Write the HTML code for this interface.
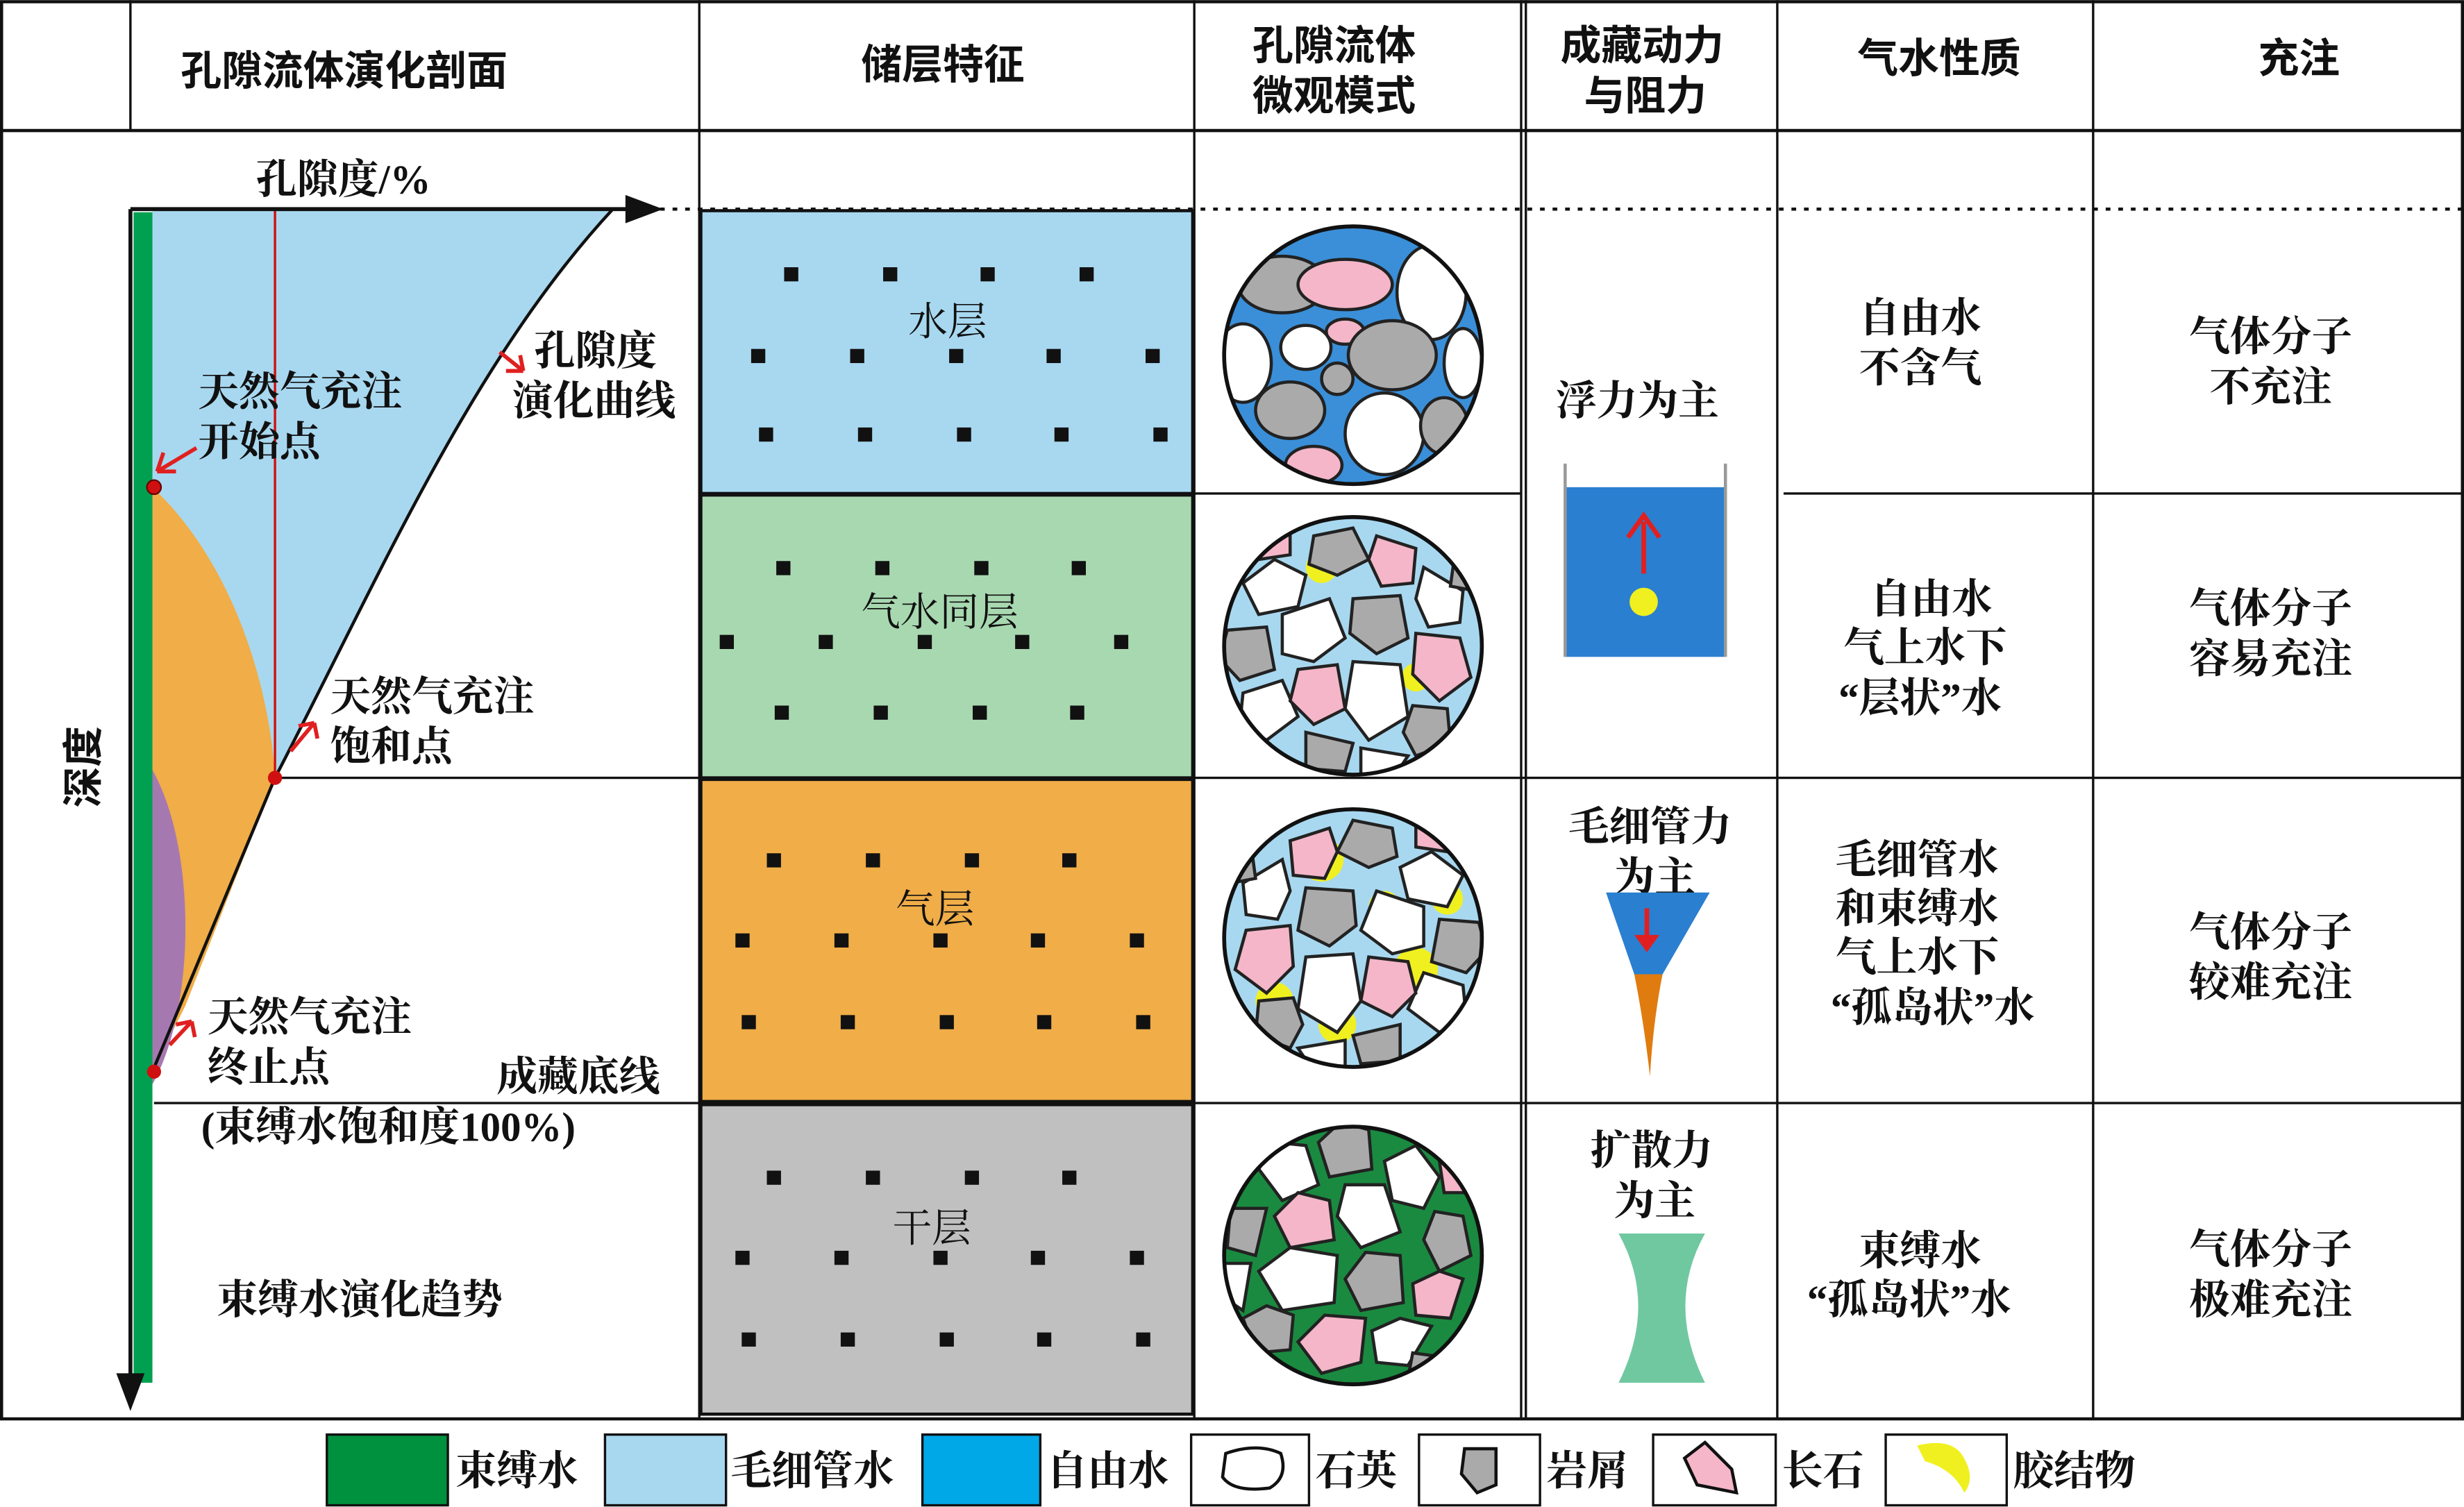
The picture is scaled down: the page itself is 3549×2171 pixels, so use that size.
<!DOCTYPE html>
<html><head><meta charset="utf-8"><style>
html,body{margin:0;padding:0;background:#fff}
svg{display:block}
text{font-family:"Liberation Serif","Noto Serif CJK SC",serif;font-weight:700;fill:#111}
.h{font-family:"Liberation Sans","Noto Sans CJK SC",sans-serif;font-weight:700;font-size:26px}
.b{font-size:26px}
.l{font-size:25px;font-weight:400}
</style></head><body>
<svg width="3549" height="2171" viewBox="0 0 1568 959" xmlns="http://www.w3.org/2000/svg">
<defs>
<clipPath id="c"><circle cx="0" cy="0" r="82"/></clipPath>
<g id="rocks" stroke="#222" stroke-width="2">
<polygon points="-70,-40 -50,-55 -30,-45 -35,-25 -60,-20" fill="#fff"/>
<polygon points="-25,-70 0,-75 10,-55 -10,-45 -28,-52" fill="#aaa"/>
<polygon points="15,-70 40,-62 38,-40 18,-38 10,-55" fill="#f4b6c8"/>
<polygon points="45,-50 70,-35 68,-15 48,-12 40,-30" fill="#fff"/>
<polygon points="-80,-10 -55,-12 -50,15 -72,22 -85,8" fill="#aaa"/>
<polygon points="-45,-20 -15,-30 -5,-5 -25,10 -45,5" fill="#fff"/>
<polygon points="0,-30 30,-32 35,-5 15,5 -2,-8" fill="#aaa"/>
<polygon points="40,-8 68,-5 75,20 55,35 38,18" fill="#f4b6c8"/>
<polygon points="-70,30 -45,22 -35,45 -55,60 -72,50" fill="#fff"/>
<polygon points="-35,15 -10,12 -5,40 -25,50 -40,35" fill="#f4b6c8"/>
<polygon points="0,10 30,12 35,45 10,60 -5,40" fill="#fff"/>
<polygon points="38,38 60,40 62,62 40,70 32,55" fill="#aaa"/>
<polygon points="-30,55 0,62 -5,80 -30,78" fill="#aaa"/>
<polygon points="5,65 35,70 25,85 5,85" fill="#fff"/>
<polygon points="-60,-70 -40,-72 -40,-58 -60,-55" fill="#f4b6c8"/>
<polygon points="65,-60 80,-50 78,-35 62,-38" fill="#aaa"/>
</g>
</defs>
<rect x="1" y="1" width="1566" height="902" fill="none" stroke="#111" stroke-width="2"/>
<line x1="0" y1="83" x2="1568" y2="83" stroke="#111" stroke-width="2"/>
<line x1="83" y1="0" x2="83" y2="83" stroke="#111" stroke-width="1.5"/>
<g stroke="#111" stroke-width="1.5">
<line x1="445" y1="0" x2="445" y2="903"/><line x1="760" y1="0" x2="760" y2="903"/>
<line x1="968" y1="0" x2="968" y2="903"/><line x1="971" y1="0" x2="971" y2="903"/>
<line x1="1131" y1="0" x2="1131" y2="903"/><line x1="1332" y1="0" x2="1332" y2="903"/>
<line x1="1135" y1="314" x2="1568" y2="314"/><line x1="760" y1="314" x2="968" y2="314"/>
<line x1="170" y1="495" x2="1568" y2="495"/>
<line x1="98" y1="702" x2="1568" y2="702"/>
</g>
<line x1="420" y1="133" x2="1568" y2="133" stroke="#111" stroke-width="2" stroke-dasharray="3,5"/>
<text class="h" x="115" y="54">孔隙流体演化剖面</text>
<text class="h" x="548" y="50">储层特征</text>
<text class="h" x="797" y="38">孔隙流体</text><text class="h" x="797" y="70">微观模式</text>
<text class="h" x="993" y="38">成藏动力</text><text class="h" x="1008" y="70">与阻力</text>
<text class="h" x="1182" y="46">气水性质</text>
<text class="h" x="1437" y="46">充注</text>
<path d="M97,133 L390,133 C300,230 240,370 175,495 L97,682 Z" fill="#a8d8f0"/>
<path d="M97,310 C150,360 172,440 175,495 L118,640 L97,682 Z" fill="#f0ad48"/>
<path d="M97,490 C125,540 125,640 97,690 Z" fill="#a678b0"/>
<rect x="85" y="135" width="12" height="745" fill="#00a050"/>
<path d="M390,133 C300,230 240,370 175,495 L97,682" fill="none" stroke="#111" stroke-width="2"/>
<line x1="175" y1="133" x2="175" y2="495" stroke="#d01010" stroke-width="1.5"/>
<line x1="83" y1="133" x2="405" y2="133" stroke="#111" stroke-width="2.5"/>
<polygon points="422,133 398,124 398,142" fill="#111"/>
<line x1="83" y1="133" x2="83" y2="880" stroke="#111" stroke-width="2.5"/>
<polygon points="83,898 74,874 92,874" fill="#111"/>
<circle cx="98" cy="310" r="4.5" fill="#d01010" stroke="#600" /><circle cx="175" cy="495" r="4.5" fill="#d01010"/><circle cx="98" cy="682" r="4.5" fill="#d01010"/>
<g stroke="#e02020" stroke-width="2.5" fill="none">
<path d="M125,285 L100,300 M100,300 L104,288 M100,300 L112,300"/>
<path d="M185,478 L200,460 M200,460 L190,462 M200,460 L202,470"/>
<path d="M108,665 L122,650 M122,650 L112,652 M122,650 L124,660"/>
<path d="M318,224 L333,236 M333,236 L322,236 M333,236 L331,226"/>
</g>
<text class="b" x="163" y="123">孔隙度/%</text>
<text class="b" x="340" y="232">孔隙度</text><text class="b" x="326" y="264">演化曲线</text>
<text class="b" x="126" y="258">天然气充注</text><text class="b" x="126" y="290">开始点</text>
<text class="b" x="210" y="452">天然气充注</text><text class="b" x="210" y="484">饱和点</text>
<text class="b" x="132" y="656">天然气充注</text><text class="b" x="132" y="688">终止点</text>
<text class="b" x="316" y="694">成藏底线</text>
<text class="b" x="128" y="726">(束缚水饱和度100%)</text>
<text class="b" x="138" y="836">束缚水演化趋势</text>
<text class="h" transform="translate(62,488) rotate(-90)" text-anchor="middle">深度</text>
<rect x="446" y="134" width="313" height="180" fill="#a8d8f0" stroke="#111" stroke-width="2"/>
<rect x="446" y="315" width="313" height="180" fill="#a8d8b0" stroke="#111" stroke-width="2"/>
<rect x="446" y="496" width="313" height="205" fill="#f0ad48" stroke="#111" stroke-width="2"/>
<rect x="446" y="703" width="313" height="197" fill="#c0c0c0" stroke="#111" stroke-width="2"/>
<g fill="#111">
<rect x="499" y="170" width="9" height="9"/><rect x="562" y="170" width="9" height="9"/><rect x="624" y="170" width="9" height="9"/><rect x="687" y="170" width="9" height="9"/>
<rect x="478" y="222" width="9" height="9"/><rect x="541" y="222" width="9" height="9"/><rect x="604" y="222" width="9" height="9"/><rect x="666" y="222" width="9" height="9"/><rect x="729" y="222" width="9" height="9"/>
<rect x="483" y="272" width="9" height="9"/><rect x="546" y="272" width="9" height="9"/><rect x="609" y="272" width="9" height="9"/><rect x="671" y="272" width="9" height="9"/><rect x="734" y="272" width="9" height="9"/>
<rect x="494" y="357" width="9" height="9"/><rect x="557" y="357" width="9" height="9"/><rect x="620" y="357" width="9" height="9"/><rect x="682" y="357" width="9" height="9"/>
<rect x="458" y="404" width="9" height="9"/><rect x="521" y="404" width="9" height="9"/><rect x="584" y="404" width="9" height="9"/><rect x="646" y="404" width="9" height="9"/><rect x="709" y="404" width="9" height="9"/>
<rect x="493" y="449" width="9" height="9"/><rect x="556" y="449" width="9" height="9"/><rect x="619" y="449" width="9" height="9"/><rect x="681" y="449" width="9" height="9"/>
<rect x="488" y="543" width="9" height="9"/><rect x="551" y="543" width="9" height="9"/><rect x="614" y="543" width="9" height="9"/><rect x="676" y="543" width="9" height="9"/>
<rect x="468" y="594" width="9" height="9"/><rect x="531" y="594" width="9" height="9"/><rect x="594" y="594" width="9" height="9"/><rect x="656" y="594" width="9" height="9"/><rect x="719" y="594" width="9" height="9"/>
<rect x="472" y="646" width="9" height="9"/><rect x="535" y="646" width="9" height="9"/><rect x="598" y="646" width="9" height="9"/><rect x="660" y="646" width="9" height="9"/><rect x="723" y="646" width="9" height="9"/>
<rect x="488" y="745" width="9" height="9"/><rect x="551" y="745" width="9" height="9"/><rect x="614" y="745" width="9" height="9"/><rect x="676" y="745" width="9" height="9"/>
<rect x="468" y="796" width="9" height="9"/><rect x="531" y="796" width="9" height="9"/><rect x="594" y="796" width="9" height="9"/><rect x="656" y="796" width="9" height="9"/><rect x="719" y="796" width="9" height="9"/>
<rect x="472" y="848" width="9" height="9"/><rect x="535" y="848" width="9" height="9"/><rect x="598" y="848" width="9" height="9"/><rect x="660" y="848" width="9" height="9"/><rect x="723" y="848" width="9" height="9"/>
</g>
<text class="l" x="578" y="213">水层</text>
<text class="l" x="548" y="398">气水同层</text>
<text class="l" x="570" y="587">气层</text>
<text class="l" x="568" y="790">干层</text>
<g transform="translate(861,226)"><g clip-path="url(#c)"><circle r="82" fill="#3a8fd8"/>
<g stroke="#222" stroke-width="2">
<ellipse cx="-45" cy="-45" rx="28" ry="18" fill="#aaa"/><ellipse cx="-5" cy="-45" rx="30" ry="16" fill="#f4b6c8"/>
<ellipse cx="50" cy="-40" rx="22" ry="30" fill="#fff"/><ellipse cx="-70" cy="5" rx="18" ry="25" fill="#fff"/>
<ellipse cx="-30" cy="-5" rx="16" ry="14" fill="#fff"/><ellipse cx="-5" cy="-15" rx="12" ry="8" fill="#f4b6c8"/>
<ellipse cx="25" cy="0" rx="28" ry="22" fill="#aaa"/><ellipse cx="70" cy="5" rx="12" ry="22" fill="#fff"/>
<ellipse cx="-40" cy="35" rx="22" ry="18" fill="#aaa"/><ellipse cx="-10" cy="15" rx="10" ry="10" fill="#aaa"/>
<ellipse cx="20" cy="50" rx="25" ry="26" fill="#fff"/><ellipse cx="58" cy="45" rx="15" ry="18" fill="#aaa"/>
<ellipse cx="-25" cy="70" rx="18" ry="12" fill="#f4b6c8"/>
</g></g><circle r="82" fill="none" stroke="#111" stroke-width="2.5"/></g>
<g transform="translate(861,411)"><g clip-path="url(#c)"><circle r="82" fill="#a8d8f0"/>
<circle cx="-20" cy="-50" r="10" fill="#f0f020"/><circle cx="40" cy="20" r="9" fill="#f0f020"/><circle cx="-50" cy="40" r="8" fill="#f0f020"/>
<use href="#rocks"/></g><circle r="82" fill="none" stroke="#111" stroke-width="2.5"/></g>
<g transform="translate(861,597)"><g clip-path="url(#c)"><circle r="82" fill="#a8d8f0"/>
<circle cx="-20" cy="-50" r="14" fill="#f0f020"/><circle cx="40" cy="20" r="14" fill="#f0f020"/><circle cx="-50" cy="40" r="12" fill="#f0f020"/><circle cx="20" cy="-20" r="10" fill="#f0f020"/><circle cx="-10" cy="55" r="12" fill="#f0f020"/><circle cx="60" cy="-25" r="10" fill="#f0f020"/>
<use href="#rocks" transform="scale(-1,1)"/></g><circle r="82" fill="none" stroke="#111" stroke-width="2.5"/></g>
<g transform="translate(861,799)"><g clip-path="url(#c)"><circle r="82" fill="#1a8a40"/>
<use href="#rocks" transform="rotate(90)"/></g><circle r="82" fill="none" stroke="#111" stroke-width="2.5"/></g>
<text class="b" x="990" y="264">浮力为主</text>
<rect x="996" y="310" width="102" height="108" fill="#2a7fd0"/>
<line x1="996" y1="295" x2="996" y2="418" stroke="#999" stroke-width="2"/><line x1="1098" y1="295" x2="1098" y2="418" stroke="#999" stroke-width="2"/>
<line x1="1046" y1="365" x2="1046" y2="332" stroke="#e02020" stroke-width="3"/><path d="M1036,342 L1046,328 L1056,342" fill="none" stroke="#e02020" stroke-width="3"/>
<circle cx="1046" cy="383" r="9" fill="#f0f020"/>
<text class="b" x="998" y="535">毛细管力</text><text class="b" x="1027" y="567">为主</text>
<path d="M1022,568 L1088,568 L1058,620 L1040,620 Z" fill="#2a7fd0"/>
<path d="M1040,620 L1058,620 Q1052,650 1050,685 Q1046,650 1040,620 Z" fill="#e07b10"/>
<line x1="1048" y1="578" x2="1048" y2="600" stroke="#e02020" stroke-width="3"/><path d="M1040,595 L1048,606 L1056,595" fill="#e02020"/>
<text class="b" x="1012" y="741">扩散力</text><text class="b" x="1027" y="773">为主</text>
<path d="M1030,785 L1085,785 Q1060,830 1085,880 L1030,880 Q1055,830 1030,785 Z" fill="#70c8a0"/>
<text class="b" x="1183" y="211">自由水</text><text class="b" x="1183" y="243">不含气</text>
<text class="b" x="1190" y="390">自由水</text><text class="b" x="1173" y="421">气上水下</text><text class="b" x="1170" y="453">“层状”水</text>
<text class="b" x="1168" y="556">毛细管水</text><text class="b" x="1168" y="587">和束缚水</text><text class="b" x="1168" y="618">气上水下</text><text class="b" x="1165" y="650">“孤岛状”水</text>
<text class="b" x="1183" y="805">束缚水</text><text class="b" x="1150" y="836">“孤岛状”水</text>
<text class="b" x="1393" y="223">气体分子</text><text class="b" x="1406" y="255">不充注</text>
<text class="b" x="1393" y="396">气体分子</text><text class="b" x="1393" y="428">容易充注</text>
<text class="b" x="1393" y="602">气体分子</text><text class="b" x="1393" y="634">较难充注</text>
<text class="b" x="1393" y="804">气体分子</text><text class="b" x="1393" y="836">极难充注</text>
<g stroke="#111" stroke-width="1.5">
<rect x="208" y="913" width="77" height="45" fill="#00913f"/><rect x="385" y="913" width="77" height="45" fill="#a8d8f0"/>
<rect x="587" y="913" width="75" height="45" fill="#00a8e8"/><rect x="758" y="913" width="75" height="45" fill="#fff"/>
<rect x="903" y="913" width="77" height="45" fill="#fff"/><rect x="1052" y="913" width="78" height="45" fill="#fff"/>
<rect x="1200" y="913" width="77" height="45" fill="#fff"/>
<path d="M780,925 Q800,918 815,925 Q820,940 808,947 Q785,950 778,940 Z" fill="#fff" stroke-width="2"/>
<path d="M932,922 L952,922 L952,945 L940,950 L930,938 Z" fill="#aaa" stroke-width="2"/>
<path d="M1072,928 L1085,918 L1102,935 L1105,950 L1080,945 Z" fill="#f4b6c8" stroke-width="2"/>
</g>
<path d="M1220,920 Q1240,915 1248,925 Q1258,940 1250,950 Q1243,935 1225,930 Z" fill="#f0f020"/>
<text class="b" x="290" y="945">束缚水</text><text class="b" x="465" y="945">毛细管水</text><text class="b" x="666" y="945">自由水</text>
<text class="b" x="837" y="945">石英</text><text class="b" x="984" y="945">岩屑</text><text class="b" x="1134" y="945">长石</text><text class="b" x="1281" y="945">胶结物</text>
</svg>
</body></html>
